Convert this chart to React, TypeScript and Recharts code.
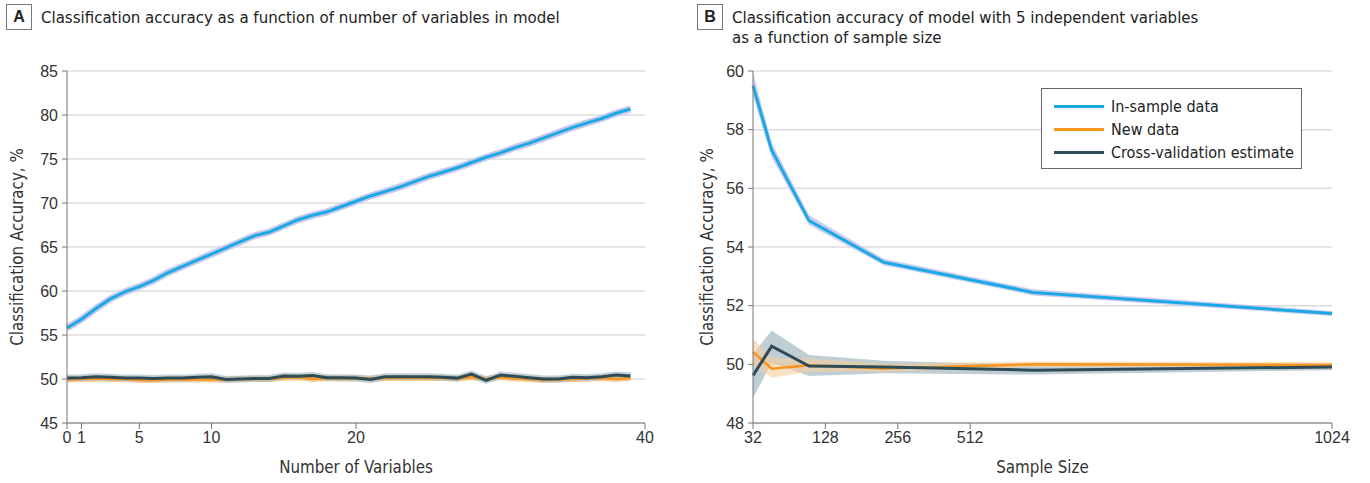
import React from 'react';
import {
  ComposedChart,
  Line,
  Area,
  XAxis,
  YAxis,
  CartesianGrid,
} from 'recharts';

// Panel A: accuracy vs number of variables
const numVars = [0, 1, 2, 3, 4, 5, 6, 7, 8, 9, 10, 11, 12, 13, 14, 15, 16, 17, 18, 19, 20, 21, 22, 23, 24, 25, 26, 27, 28, 29, 30, 31, 32, 33, 34, 35, 36, 37, 38, 39];
const inSampleA = [55.8, 56.8, 58.0, 59.1, 59.9, 60.5, 61.2, 62.1, 62.8, 63.5, 64.2, 64.9, 65.6, 66.3, 66.7, 67.4, 68.1, 68.6, 69.0, 69.6, 70.2, 70.8, 71.3, 71.8, 72.4, 73.0, 73.5, 74.0, 74.6, 75.2, 75.7, 76.3, 76.8, 77.4, 78.0, 78.6, 79.1, 79.6, 80.2, 80.7];
const newDataA = [49.95, 50.0, 50.05, 50.0, 50.0, 49.9, 49.9, 49.95, 49.95, 49.95, 49.95, 49.95, 50.0, 50.0, 50.0, 50.15, 50.2, 50.0, 50.1, 50.05, 50.1, 50.05, 50.1, 50.15, 50.1, 50.1, 50.1, 50.05, 50.2, 50.0, 50.2, 50.05, 50.0, 49.9, 49.95, 50.0, 50.05, 50.1, 50.0, 50.1];
const crossValA = [50.1, 50.15, 50.25, 50.2, 50.1, 50.1, 50.05, 50.1, 50.1, 50.2, 50.25, 49.95, 50.0, 50.05, 50.05, 50.35, 50.3, 50.4, 50.15, 50.15, 50.1, 49.95, 50.25, 50.25, 50.25, 50.25, 50.2, 50.1, 50.55, 49.85, 50.45, 50.3, 50.15, 50.0, 50.0, 50.2, 50.15, 50.25, 50.45, 50.35];
const xTicksA = [0, 1, 5, 10, 20, 40];
const yTicksA = [45, 50, 55, 60, 65, 70, 75, 80, 85];

// Panel B: accuracy vs sample size (5 variables)
const sampleSizes = [32, 64, 128, 256, 512, 1024];
const inSampleB = [59.5, 57.3, 54.9, 53.48, 52.45, 51.73];
const inSampleBLo = [59.15, 57.05, 54.75, 53.38, 52.35, 51.65];
const inSampleBHi = [59.95, 57.55, 55.08, 53.6, 52.56, 51.82];
const newDataB = [50.42, 49.85, 49.97, 49.86, 50.0, 49.98];
const newDataBLo = [49.95, 49.55, 49.75, 49.75, 49.9, 49.9];
const newDataBHi = [50.9, 50.2, 50.2, 50.02, 50.1, 50.07];
const crossValB = [49.62, 50.62, 49.94, 49.91, 49.8, 49.91];
const crossValBLo = [48.85, 50.05, 49.6, 49.7, 49.65, 49.8];
const crossValBHi = [50.35, 51.15, 50.32, 50.12, 49.98, 50.02];
const xTicksB = [32, 156, 280, 404, 1024];
const xTickLabelsB = ['32', '128', '256', '512', '1024'];
const yTicksB = [48, 50, 52, 54, 56, 58, 60];

const seriesNames = ['In-sample data', 'New data', 'Cross-validation estimate'];

const BLUE = '#1ba9e6';
const ORANGE = '#f7941d';
const DARK = '#2e4b58';
const BLUE_BAND = '#c6c8ea';
const ORANGE_BAND = '#f8cf9c';
const DARK_BAND = '#a9bcc6';

const TEXT_FONT = '"DejaVu Sans Condensed", "DejaVu Sans", sans-serif';
const TICK_FONT = '"Liberation Sans", Arial, sans-serif';
const AXIS_COLOR = '#777';

const dataA = numVars.map((n, i) => ({
  n,
  inSample: inSampleA[i],
  newData: newDataA[i],
  crossVal: crossValA[i],
}));

const dataB = sampleSizes.map((s, i) => ({
  s,
  inSample: inSampleB[i],
  inSampleBand: [inSampleBLo[i], inSampleBHi[i]],
  newData: newDataB[i],
  newDataBand: [newDataBLo[i], newDataBHi[i]],
  crossVal: crossValB[i],
  crossValBand: [crossValBLo[i], crossValBHi[i]],
}));

const tickStyle = { fill: '#333', fontSize: 16, fontFamily: TICK_FONT };
const axisLabelStyle = { fill: '#333', fontSize: 16.8, fontFamily: TEXT_FONT, textAnchor: 'middle' as const };

const PanelTitle = ({ letter, lines, left }: { letter: string; lines: string[]; left: number }) => (
  <div style={{ position: 'absolute', left, top: 4, fontFamily: TEXT_FONT, color: '#222' }}>
    <div
      style={{
        position: 'absolute',
        left: 0,
        top: 0,
        width: 24,
        height: 24,
        border: '1px solid #777',
        fontWeight: 'bold',
        fontSize: 16,
        lineHeight: '24px',
        textAlign: 'center',
        fontFamily: TICK_FONT,
      }}
    >
      {letter}
    </div>
    <div style={{ position: 'absolute', left: 35, top: 0, fontSize: 16.7, lineHeight: '20px', whiteSpace: 'nowrap', paddingTop: 3 }}>
      {lines.map((l) => (
        <div key={l}>{l}</div>
      ))}
    </div>
  </div>
);

const legendColors = [BLUE, ORANGE, DARK];

const LegendBox = () => (
  <div
    style={{
      position: 'absolute',
      left: 1041,
      top: 88,
      width: 261,
      height: 81,
      border: '1px solid #666',
      background: '#fff',
      fontFamily: TEXT_FONT,
      fontSize: 16,
      color: '#222',
      paddingTop: 6,
      boxSizing: 'border-box',
      whiteSpace: 'nowrap',
    }}
  >
    {seriesNames.map((name, i) => (
      <div key={name} style={{ display: 'flex', alignItems: 'center', height: 23, paddingLeft: 12 }}>
        <div style={{ width: 50, height: 3, background: legendColors[i], marginRight: 7, flex: 'none' }} />
        <span>{name}</span>
      </div>
    ))}
  </div>
);

const ChartA = () => (
  <ComposedChart width={690} height={483} data={dataA} margin={{ top: 71, right: 45, bottom: 8, left: 0 }}>
    <CartesianGrid vertical={false} stroke="#dcdcdc" strokeWidth={1.5} />
    <XAxis
      dataKey="n"
      type="number"
      domain={[0, 40]}
      ticks={xTicksA}
      interval={0}
      height={52}
      tick={tickStyle}
      tickSize={6}
      tickMargin={3}
      stroke={AXIS_COLOR}
      label={{ value: 'Number of Variables', position: 'insideBottom', offset: 2, style: axisLabelStyle }}
    />
    <YAxis
      type="number"
      domain={[45, 85]}
      ticks={yTicksA}
      interval={0}
      width={67}
      tick={tickStyle}
      tickSize={5}
      tickMargin={4}
      stroke={AXIS_COLOR}
      label={{ value: 'Classification Accuracy, %', angle: -90, position: 'insideLeft', offset: 17, style: axisLabelStyle }}
    />
    <Line dataKey="inSample" stroke={BLUE_BAND} strokeWidth={7} dot={false} isAnimationActive={false} legendType="none" />
    <Line dataKey="newData" stroke={ORANGE_BAND} strokeWidth={6} dot={false} isAnimationActive={false} legendType="none" />
    <Line dataKey="crossVal" stroke={DARK_BAND} strokeWidth={7} strokeOpacity={0.7} dot={false} isAnimationActive={false} legendType="none" />
    <Line dataKey="newData" stroke={ORANGE} strokeWidth={2.5} dot={false} isAnimationActive={false} />
    <Line dataKey="crossVal" stroke={DARK} strokeWidth={3} dot={false} isAnimationActive={false} />
    <Line dataKey="inSample" stroke={BLUE} strokeWidth={3} dot={false} isAnimationActive={false} />
  </ComposedChart>
);

const ChartB = () => (
  <ComposedChart width={680} height={483} data={dataB} margin={{ top: 71, right: 38, bottom: 8, left: 0 }}>
    <CartesianGrid vertical={false} stroke="#dcdcdc" strokeWidth={1.5} />
    <XAxis
      dataKey="s"
      type="number"
      domain={[32, 1024]}
      ticks={xTicksB}
      interval={0}
      tickFormatter={(v: number) => xTickLabelsB[xTicksB.indexOf(v)] ?? String(v)}
      height={52}
      tick={tickStyle}
      tickSize={6}
      tickMargin={3}
      stroke={AXIS_COLOR}
      label={{ value: 'Sample Size', position: 'insideBottom', offset: 2, style: axisLabelStyle }}
    />
    <YAxis
      type="number"
      domain={[48, 60]}
      ticks={yTicksB}
      interval={0}
      width={63}
      tick={tickStyle}
      tickSize={5}
      tickMargin={4}
      stroke={AXIS_COLOR}
      label={{ value: 'Classification Accuracy, %', angle: -90, position: 'insideLeft', offset: 17, style: axisLabelStyle }}
    />
    <Area dataKey="crossValBand" stroke="none" fill={DARK_BAND} fillOpacity={0.75} isAnimationActive={false} />
    <Area dataKey="newDataBand" stroke="none" fill={ORANGE_BAND} fillOpacity={0.6} isAnimationActive={false} />
    <Area dataKey="inSampleBand" stroke="none" fill={BLUE_BAND} fillOpacity={0.9} isAnimationActive={false} />
    <Line dataKey="inSample" stroke={BLUE} strokeWidth={3} dot={false} isAnimationActive={false} />
    <Line dataKey="newData" stroke={ORANGE} strokeWidth={2.5} dot={false} isAnimationActive={false} />
    <Line dataKey="crossVal" stroke={DARK} strokeWidth={3} dot={false} isAnimationActive={false} />
  </ComposedChart>
);

export default function App() {
  return (
    <div style={{ position: 'fixed', left: 0, top: 0, width: 1370, height: 483, background: '#fff' }}>
      <div style={{ position: 'absolute', left: 0, top: 0 }}>
        <ChartA />
      </div>
      <div style={{ position: 'absolute', left: 690, top: 0 }}>
        <ChartB />
      </div>
      <LegendBox />
      <PanelTitle letter="A" left={6} lines={['Classification accuracy as a function of number of variables in model']} />
      <PanelTitle
        letter="B"
        left={697}
        lines={['Classification accuracy of model with 5 independent variables', 'as a function of sample size']}
      />
    </div>
  );
}
